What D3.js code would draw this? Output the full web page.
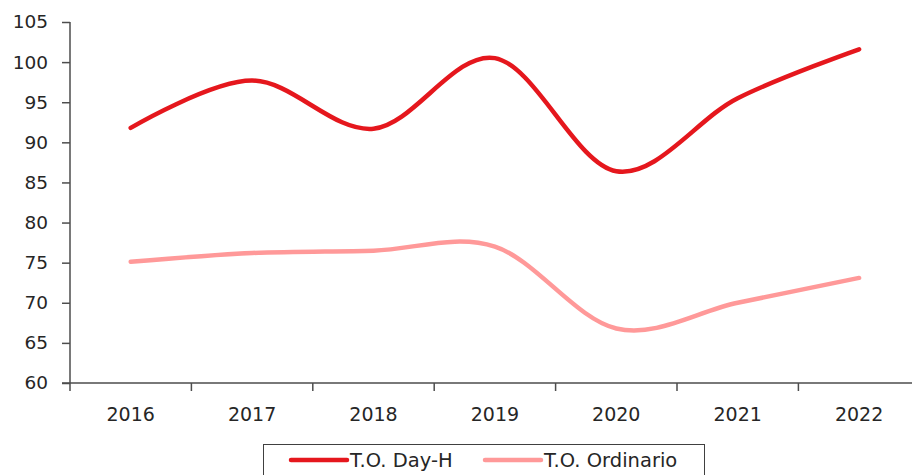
<!DOCTYPE html>
<html>
<head>
<meta charset="utf-8">
<script src="https://cdn.jsdelivr.net/npm/d3@7"></script>
<style>
  body { margin: 0; background: #fff; }
  svg { display: block; font-family: "DejaVu Sans", Verdana, sans-serif; }
</style>
</head>
<body>
<svg id="chart" width="912" height="475"></svg>
<script>
// chart data
var years = ["2016", "2017", "2018", "2019", "2020", "2021", "2022"];
var dayH = [91.8, 97.7, 91.7, 100.5, 86.4, 95.5, 101.6];
var ordinario = [75.1, 76.2, 76.5, 77.0, 66.8, 70.0, 73.1];
var yTicks = [60, 65, 70, 75, 80, 85, 90, 95, 100, 105];
var seriesNames = ["T.O. Day-H", "T.O. Ordinario"];
var seriesColors = ["#e5171d", "#ff9999"];

var svg = d3.select("#chart");
var plotLeft = 70, plotTop = 22, plotBottom = 383;
var step = 121.4;

var x = d3.scalePoint()
    .domain(years)
    .range([plotLeft + step / 2, plotLeft + step * (years.length - 0.5)]);
var y = d3.scaleLinear().domain([60, 105]).range([plotBottom, plotTop]);

var axisColor = "#4d4d4d";

// y axis
var yAxis = svg.append("g")
    .attr("transform", "translate(" + plotLeft + ",0)")
    .call(d3.axisLeft(y).tickValues(yTicks).tickSize(8).tickSizeOuter(0).tickPadding(14));
yAxis.select(".domain").attr("stroke", axisColor).attr("stroke-width", 1.5)
    .attr("d", "M0," + plotTop + "V" + (plotBottom + 8));
yAxis.selectAll(".tick line").attr("stroke", axisColor).attr("stroke-width", 1.5);
yAxis.selectAll(".tick text").attr("font-size", "18.5px").attr("fill", "#262626")
    .attr("font-family", "DejaVu Sans, Verdana, sans-serif");

// x axis: ticks between categories
var xg = svg.append("g").attr("transform", "translate(0," + plotBottom + ")");
xg.append("line")
    .attr("x1", plotLeft - 8).attr("x2", 912)
    .attr("stroke", axisColor).attr("stroke-width", 1.5);
xg.selectAll(".tk")
    .data(years)
    .enter().append("line")
    .attr("x1", d => x(d) + step / 2).attr("x2", d => x(d) + step / 2)
    .attr("y1", 0).attr("y2", 8)
    .attr("stroke", axisColor).attr("stroke-width", 1.5);
xg.selectAll(".lbl")
    .data(years)
    .enter().append("text")
    .attr("x", d => x(d))
    .attr("y", 38)
    .attr("text-anchor", "middle")
    .attr("font-size", "19px")
    .attr("fill", "#262626")
    .text(d => d);

// lines (smoothed like the original)
var line = d3.line()
    .x((d, i) => x(years[i]))
    .y(d => y(d))
    .curve(d3.curveCardinal.tension(0));

[dayH, ordinario].forEach(function(vals, k) {
  svg.append("path")
    .datum(vals)
    .attr("d", line)
    .attr("fill", "none")
    .attr("stroke", seriesColors[k])
    .attr("stroke-width", 4.5)
    .attr("stroke-linecap", "round")
    .attr("stroke-linejoin", "round");
});

// legend
var lg = svg.append("g");
lg.append("rect")
    .attr("x", 263.5).attr("y", 444.5)
    .attr("width", 441).attr("height", 40)
    .attr("fill", "none").attr("stroke", "#404040").attr("stroke-width", 1);
var legendX = [291, 485];
seriesNames.forEach(function(name, k) {
  lg.append("line")
    .attr("x1", legendX[k]).attr("x2", legendX[k] + 56)
    .attr("y1", 460).attr("y2", 460)
    .attr("stroke", seriesColors[k]).attr("stroke-width", 4.5)
    .attr("stroke-linecap", "round");
  lg.append("text")
    .attr("x", legendX[k] + 59)
    .attr("y", 467)
    .attr("font-size", "19.5px")
    .attr("fill", "#262626")
    .text(name);
});
</script>
</body>
</html>
